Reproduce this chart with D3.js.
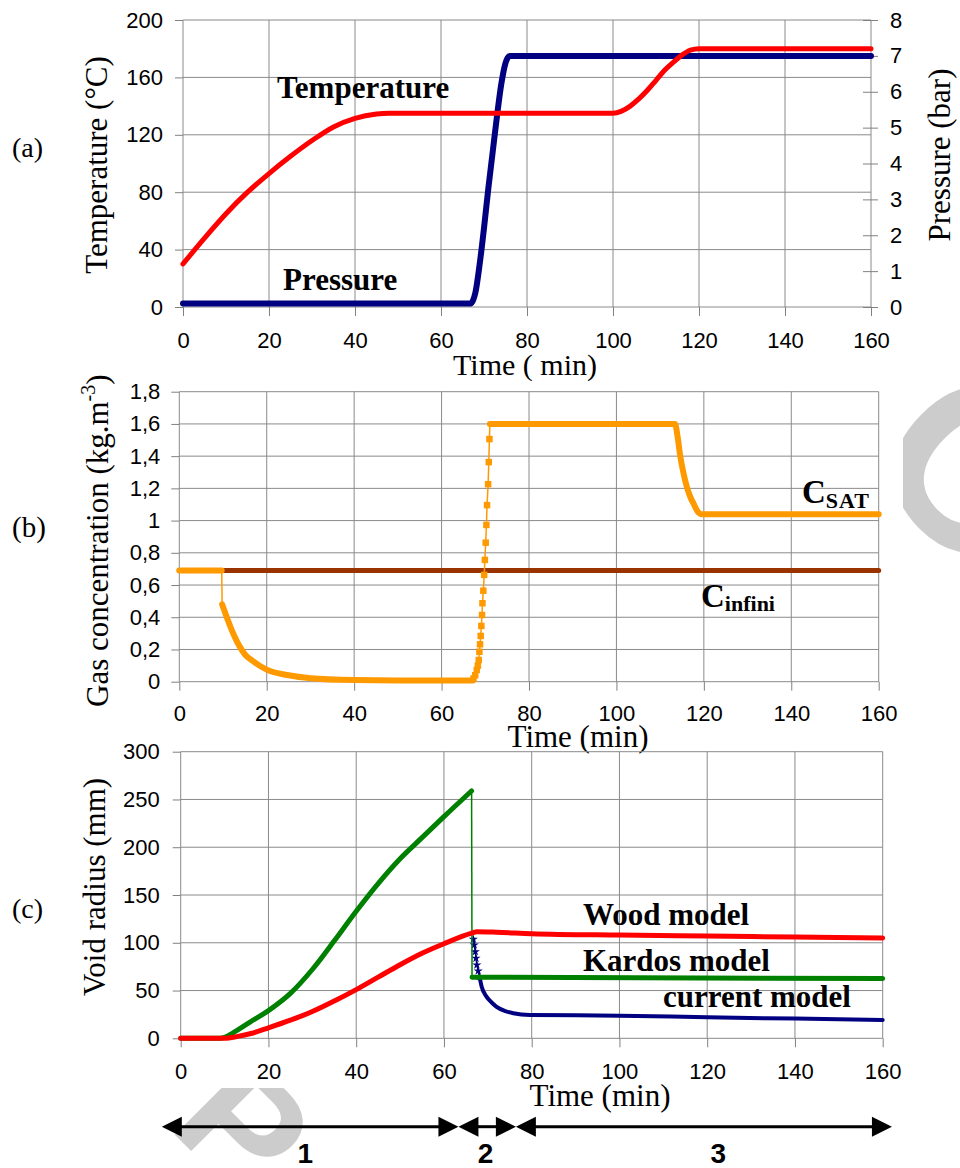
<!DOCTYPE html>
<html>
<head>
<meta charset="utf-8">
<script src="https://cdn.jsdelivr.net/npm/d3@7"></script>
<style>
    body { margin: 0; background: #fff; }
    svg { display: block; }
    .tick text { font-family: "Liberation Sans", Arial, sans-serif; font-size: 22px; fill: #000; }
    .tick line { stroke: #808080; }
    .grid line { stroke: #8a8a8a; stroke-width: 1; }
    .serif { font-family: "Liberation Serif", "Times New Roman", serif; fill: #000; }
</style>
</head>
<body>
<svg id="chart" width="960" height="1168"></svg>
<script>
// shared time axis
const timeTicks = [0, 20, 40, 60, 80, 100, 120, 140, 160];

// (a) temperature (°C) and pressure (bar) vs time (min)
const tempTicks = [0, 40, 80, 120, 160, 200];
const pressureTicks = [0, 1, 2, 3, 4, 5, 6, 7, 8];
const temperature = [[0, 30], [5, 48], [10, 65], [15, 80], [20, 93], [25, 105], [30, 116], [35, 125.5],
    [40, 131.5], [45, 134.5], [48, 135], [100, 135], [102, 136.5], [104, 140], [106, 145], [108, 151],
    [110, 158], [112, 165], [114, 170.5], [116, 175.5], [118, 179], [120, 180], [160, 180]];
const pressure = [[0, 0.1], [67, 0.1], [67.5, 0.2], [68, 0.4], [69, 1.2], [70, 2.2], [71, 3.3], [72, 4.3],
    [73, 5.3], [74, 6.2], [75, 6.8], [75.5, 6.95], [76, 7.0], [160, 7.0]];

// (b) gas concentration (kg.m-3)
const concTicks = [0, 0.2, 0.4, 0.6, 0.8, 1, 1.2, 1.4, 1.6, 1.8];
const cInfini = [[0, 0.69], [160, 0.69]];
const csatStart = [[0, 0.69], [9.7, 0.69]];
const csatDecay = [[9.8, 0.48], [11, 0.39], [12, 0.32], [13, 0.26], [14, 0.21], [15, 0.17], [17, 0.125],
    [20, 0.075], [25, 0.04], [30, 0.022], [40, 0.01], [50, 0.007], [67.2, 0.007]];
const csatRise = [[67.3, 0.02], [67.7, 0.04], [68.05, 0.073], [68.3, 0.1], [68.5, 0.135], [68.65, 0.186],
    [68.8, 0.232], [68.95, 0.284], [69.1, 0.346], [69.25, 0.414], [69.35, 0.487], [69.55, 0.565],
    [69.75, 0.663], [69.9, 0.756], [70.1, 0.863], [70.25, 0.973], [70.4, 1.096], [70.65, 1.226],
    [70.8, 1.363], [70.95, 1.506]];
const csatPlateau = [[71.05, 1.6], [113.4, 1.6], [114, 1.52], [114.6, 1.4], [115.3, 1.3], [116.1, 1.21],
    [117, 1.14], [117.6, 1.108], [118.5, 1.06], [119.5, 1.04], [160, 1.04]];

// (c) void radius (mm)
const radiusTicks = [0, 50, 100, 150, 200, 250, 300];
const woodModel = [[0, 0], [10, 0], [13, 2], [16, 5], [20, 11], [25, 19], [30, 28], [35, 39], [40, 51],
    [45, 64], [50, 77], [55, 89], [60, 99], [66.3, 110], [67.5, 111.5], [72, 111], [80, 109.5], [100, 108],
    [120, 107], [140, 106], [160, 105]];
const kardosGrowth = [[0, 0], [9, 0], [10, 1], [12, 6], [15.8, 17], [20, 29], [25, 47], [30, 72], [35, 102],
    [40, 133], [45, 162], [50, 188], [55, 210], [60, 232], [66.3, 259]];
const kardosTail = [[66.4, 64], [160, 62.5]];
const currentDrop = [[66.7, 103.7], [66.9, 97.7], [67.15, 90.7], [67.3, 83.8], [67.5, 76.8], [67.8, 70.5],
    [68.1, 64.5]];
const currentTail = [[68.1, 64.5], [68.6, 54], [69.7, 43.6], [71, 37], [72, 33], [74, 28.5], [75.8, 26.2],
    [79.6, 24.4], [100, 23.7], [120, 22], [140, 20.6], [160, 19.2]];

// process phases under (c)
const phaseBounds = [-4.3, 63.3, 76.4, 162.1];
const phaseLabels = ["1", "2", "3"];
const phaseLabelAt = [28.4, 69.5, 122.5];

const sans = '"Liberation Sans", Arial, sans-serif';
const svg = d3.select("#chart");

/*
 * Watermark (only visible outside the chart picture)
 */
const wm = svg.append("g").attr("fill", "#cccccc")
    .style("font-family", sans).style("font-weight", "bold").attr("text-anchor", "middle");
wm.append("text").attr("transform", "translate(917,523) rotate(45)").attr("font-size", 230).text("C");
wm.append("text").attr("transform", "translate(205,1165) rotate(45)").attr("font-size", 160).text("P");
svg.append("rect").attr("width", 903).attr("height", 1088).attr("fill", "#fff");

/**
 * Grid + left/bottom axes for one panel
 */
function makePanel(box, yDomain, yTicks, yFormat) {
    const x = d3.scaleLinear().domain([0, 160]).range([box.left, box.right]);
    const y = d3.scaleLinear().domain(yDomain).range([box.bottom, box.top]);
    const g = svg.append("g");

    const grid = g.append("g").attr("class", "grid");
    grid.selectAll(".v").data(timeTicks).join("line")
        .attr("x1", d => x(d)).attr("x2", d => x(d))
        .attr("y1", box.top).attr("y2", box.bottom);
    grid.selectAll(".h").data(yTicks).join("line")
        .attr("x1", box.left).attr("x2", box.right)
        .attr("y1", d => y(d)).attr("y2", d => y(d));

    g.append("g")
        .attr("transform", `translate(0,${box.bottom})`)
        .call(d3.axisBottom(x).tickValues(timeTicks).tickSize(9).tickPadding(box.xPad))
        .call(a => a.select(".domain").remove());

    g.append("g")
        .attr("transform", `translate(${box.left},0)`)
        .call(d3.axisLeft(y).tickValues(yTicks).tickSize(8).tickPadding(box.yPad).tickFormat(yFormat))
        .call(a => a.select(".domain").remove());

    return { x, y, g, box };
}

/**
 * Draw a series made of pieces: "thick" runs, or "marks" (thin line + symbols).
 * Consecutive pieces are joined by a thin line.
 */
function drawSeries(p, yScale, pieces, color, width, symbol) {
    const line = d3.line().x(d => p.x(d[0])).y(d => yScale(d[1]));
    const smooth = d3.line().x(d => p.x(d[0])).y(d => yScale(d[1])).curve(d3.curveMonotoneX);
    const layer = p.g.append("g").attr("fill", "none");

    for (let i = 0; i < pieces.length - 1; i++) {
        const a = pieces[i].pts[pieces[i].pts.length - 1];
        const b = pieces[i + 1].pts[0];
        layer.append("path").attr("d", line([a, b]))
            .attr("stroke", color).attr("stroke-width", 1.5);
    }

    pieces.forEach(pc => {
        if (pc.kind === "thick") {
            layer.append("path").attr("d", smooth(pc.pts))
                .attr("stroke", color).attr("stroke-width", width)
                .attr("stroke-linejoin", "round").attr("stroke-linecap", "round");
        } else {
            layer.append("path").attr("d", line(pc.pts))
                .attr("stroke", color).attr("stroke-width", 1.5);
            layer.selectAll(null).data(pc.pts).join("path")
                .attr("d", d3.symbol().type(symbol.type).size(symbol.size))
                .attr("transform", d => `translate(${p.x(d[0])},${yScale(d[1])})`)
                .attr("fill", color);
        }
    });
}

function addText(txt, x, y, size, opts = {}) {
    const t = svg.append("text").attr("class", "serif")
        .attr("font-size", size)
        .attr("text-anchor", opts.anchor || "start")
        .attr("font-weight", opts.bold ? "bold" : null)
        .attr("transform", `translate(${x},${y})` + (opts.rotate ? ` rotate(${opts.rotate})` : ""))
        .text(txt);
    return t;
}

/*
 * (a)
 */
const pa = makePanel({ left: 183, right: 871, top: 20, bottom: 307, xPad: 16, yPad: 12 },
    [0, 200], tempTicks, d3.format("d"));
const yPress = d3.scaleLinear().domain([0, 8]).range([pa.box.bottom, pa.box.top]);
pa.g.append("g")
    .attr("transform", `translate(${pa.box.right - 8},0)`)
    .call(d3.axisRight(yPress).tickValues(pressureTicks).tickSize(15).tickPadding(12))
    .call(a => a.select(".domain").remove());

drawSeries(pa, yPress, [{ kind: "thick", pts: pressure }], "#000080", 6);
drawSeries(pa, pa.y, [{ kind: "thick", pts: temperature }], "#ff0000", 5);

addText("Time ( min)", 525, 375, 30, { anchor: "middle" });
addText("Temperature (°C)", 107, 165, 31, { anchor: "middle", rotate: -90 });
addText("Pressure (bar)", 950, 155, 31, { anchor: "middle", rotate: -90 });
addText("(a)", 12, 157, 28);
addText("Temperature", 277, 98, 31, { bold: true });
addText("Pressure", 283, 290, 31, { bold: true });

/*
 * (b)
 */
const pb = makePanel({ left: 179.3, right: 878.7, top: 391.7, bottom: 681.7, xPad: 15, yPad: 11 },
    [0, 1.8], concTicks, d => Number.isInteger(d) ? String(d) : d.toFixed(1).replace(".", ","));

drawSeries(pb, pb.y, [{ kind: "thick", pts: cInfini }], "#993300", 5);
drawSeries(pb, pb.y, [
    { kind: "thick", pts: csatStart },
    { kind: "thick", pts: csatDecay },
    { kind: "marks", pts: csatRise },
    { kind: "thick", pts: csatPlateau }
], "#ff9900", 6, { type: d3.symbolSquare, size: 42 });

addText("Time (min)", 578, 747, 31, { anchor: "middle" });
const gasTitle = addText("Gas concentration (kg.m", 108, 707, 31, { rotate: -90 });
gasTitle.append("tspan").attr("font-size", 20).attr("dy", -13).text("-3");
gasTitle.append("tspan").attr("dy", 13).text(")");
addText("(b)", 12, 537, 29);
const csatLabel = addText("C", 802, 503, 33, { bold: true });
csatLabel.append("tspan").attr("font-size", 22).attr("dy", 5).attr("letter-spacing", 1).text("SAT");
const cinfLabel = addText("C", 701, 607, 33, { bold: true });
cinfLabel.append("tspan").attr("font-size", 22).attr("dy", 4).text("infini");

/*
 * (c)
 */
const pc = makePanel({ left: 180.7, right: 882.7, top: 751.7, bottom: 1038.3, xPad: 16, yPad: 13 },
    [0, 300], radiusTicks, d3.format("d"));

drawSeries(pc, pc.y, [
    { kind: "marks", pts: currentDrop },
    { kind: "thick", pts: currentTail }
], "#000080", 4, { type: d3.symbolStar, size: 26 });
drawSeries(pc, pc.y, [
    { kind: "thick", pts: kardosGrowth },
    { kind: "thick", pts: kardosTail }
], "#008000", 5);
drawSeries(pc, pc.y, [{ kind: "thick", pts: woodModel }], "#ff0000", 5);

addText("Time (min)", 600, 1106, 31, { anchor: "middle" });
addText("Void radius (mm)", 105, 887, 31, { anchor: "middle", rotate: -90 });
addText("(c)", 12, 918, 28);
addText("Wood model", 583, 925, 31, { bold: true });
addText("Kardos model", 583, 971, 31, { bold: true });
addText("current model", 663, 1007, 31, { bold: true });

/*
 * Phase arrows
 */
const arrowY = 1126.7, headLen = 20, headHalf = 10;
const phases = svg.append("g");
phaseLabels.forEach((lab, i) => {
    const x0 = pc.x(phaseBounds[i]), x1 = pc.x(phaseBounds[i + 1]);
    phases.append("line")
        .attr("x1", x0 + headLen - 2).attr("x2", x1 - headLen + 2)
        .attr("y1", arrowY).attr("y2", arrowY)
        .attr("stroke", "#000").attr("stroke-width", 3);
    phases.append("path")
        .attr("d", `M${x0},${arrowY}L${x0 + headLen},${arrowY - headHalf}L${x0 + headLen},${arrowY + headHalf}Z`)
        .attr("fill", "#000");
    phases.append("path")
        .attr("d", `M${x1},${arrowY}L${x1 - headLen},${arrowY - headHalf}L${x1 - headLen},${arrowY + headHalf}Z`)
        .attr("fill", "#000");
    phases.append("text")
        .attr("x", pc.x(phaseLabelAt[i])).attr("y", 1163)
        .attr("text-anchor", "middle")
        .style("font-family", sans).attr("font-weight", "bold").attr("font-size", 28)
        .text(lab);
});
</script>
</body>
</html>
